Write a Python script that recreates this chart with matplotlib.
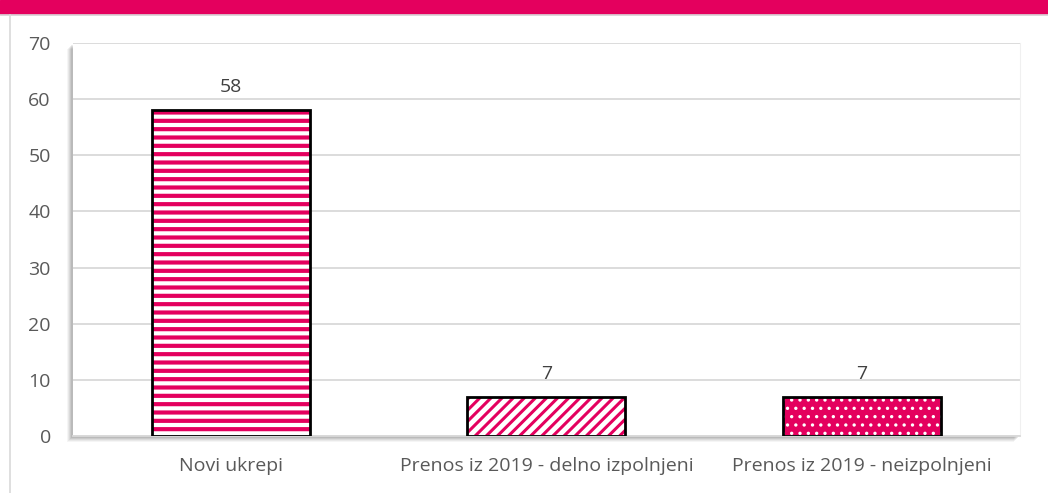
import numpy as np
import matplotlib.pyplot as plt
import matplotlib as mpl
from matplotlib.patches import Rectangle

# Podatki
kategorije = ["Novi ukrepi", "Prenos iz 2019 - delno izpolnjeni", "Prenos iz 2019 - neizpolnjeni"]
vrednosti = [58, 7, 7]
y_ticks = [0, 10, 20, 30, 40, 50, 60, 70]

magenta = "#E4005E"
plt.rcParams['font.family'] = ['Open Sans', 'DejaVu Sans']

fig = plt.figure(figsize=(10.48, 4.93), dpi=100)
ax = fig.add_axes([0.0697, 0.1156, 0.9033, 0.7972])
ax.set_zorder(5)

# zgornji trak in leva crta
fig.patches.append(Rectangle((0, 0.972), 1, 0.028, transform=fig.transFigure,
                             color=magenta, zorder=0))
fig.lines.append(plt.Line2D([0, 1], [0.970, 0.970], transform=fig.transFigure,
                            color="#d9d9d9", lw=1.2))
fig.lines.append(plt.Line2D([0.0095, 0.0095], [0, 0.97], transform=fig.transFigure,
                            color="#d9d9d9", lw=1.2))

# senca okrog obmocja grafa
for i, a in enumerate([0.04, 0.05, 0.06, 0.07, 0.08]):
    off = (6 - i) / 1048
    offy = (6 - i) / 493
    fig.patches.append(Rectangle((0.0697 - off, 0.1156 - offy), 0.9033, 0.7972,
                                 transform=fig.transFigure, color="black",
                                 alpha=a, lw=0, zorder=0))

x = np.arange(len(kategorije))
vzorci = ["--", "///", ".."]
ozadje = ["white", "white", magenta]
barve_vzorca = [magenta, magenta, "white"]
debeline = [3.0, 2.2, 1.2]

for i in range(len(kategorije)):
    with mpl.rc_context({'hatch.linewidth': debeline[i]}):
        ax.bar(x[i], vrednosti[i], width=0.5, color=ozadje[i], edgecolor=barve_vzorca[i],
               hatch=vzorci[i], linewidth=0, zorder=2)
    ax.bar(x[i], vrednosti[i], width=0.5, fill=False, edgecolor="black",
           linewidth=2, zorder=3)
    ax.text(x[i], vrednosti[i] + 2.5, str(vrednosti[i]), ha="center", va="bottom",
            fontsize=14, color="#404040")

ax.set_xlim(-0.5, 2.5)
ax.set_ylim(0, 70)
ax.set_yticks(y_ticks)
ax.set_xticks(x)
ax.set_xticklabels(kategorije)
ax.tick_params(axis="both", length=0, labelsize=14, labelcolor="#595959")
ax.tick_params(axis="y", pad=16)
ax.tick_params(axis="x", pad=15)
ax.yaxis.grid(True, color="#d9d9d9", lw=1.3, zorder=0)
ax.set_axisbelow(True)
for s in ["left", "top"]:
    ax.spines[s].set_visible(False)
ax.spines["right"].set_color("#f0f0f0")
ax.spines["bottom"].set_color("#d9d9d9")
ax.spines["bottom"].set_linewidth(1.3)
ax.set_facecolor("white")

fig.savefig("out.png", dpi=100)
